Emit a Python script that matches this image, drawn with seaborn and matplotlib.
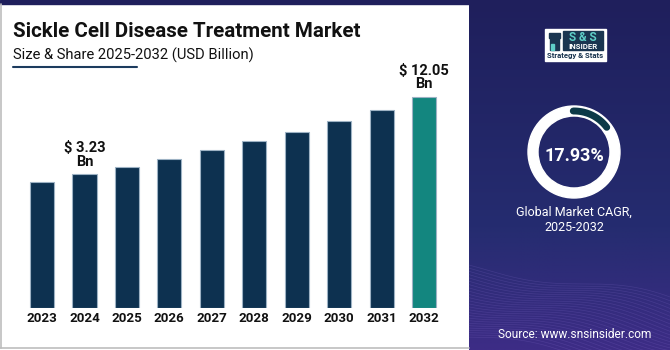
import numpy as np
import pandas as pd
import matplotlib.pyplot as plt
import seaborn as sns
from matplotlib.patches import Rectangle, Wedge

# values (bars sit on a shifted baseline)
years = ['2023', '2024', '2025', '2026', '2027', '2028', '2029', '2030', '2031', '2032']
market_bn = [2.39, 3.23, 4.09, 4.97, 5.99, 7.02, 8.04, 9.29, 10.51, 12.05]
axis_floor = -12.0
value_labels = {'2024': '$ 3.23\nBn', '2032': '$ 12.05\nBn'}

title = 'Sickle Cell Disease Treatment Market'
subtitle = 'Size & Share 2025-2032 (USD Billion)'
cagr = '17.93%'
cagr_caption = 'Global Market CAGR,\n2025-2032'
source = 'Source: www.snsinsider.com'

NAVY = '#0d3150'
TEAL = '#13867f'
PANEL = '#1f1f5c'

df = pd.DataFrame({'year': years, 'value': market_bn})
df['height'] = df['value'] - axis_floor
palette = {y: (TEAL if y == years[-1] else NAVY) for y in years}

sns.set_theme(style='white')
plt.rcParams['font.family'] = ['Roboto', 'DejaVu Sans']

W, H = 670, 350
fig = plt.figure(figsize=(W / 100, H / 100), dpi=100)
fig.patch.set_facecolor('white')

# background layer in pixel coordinates
bg = fig.add_axes([0, 0, 1, 1], zorder=0)
bg.set_xlim(0, W)
bg.set_ylim(H, 0)
bg.axis('off')

# right panel gradient
grad = np.linspace(0, 1, 200)[:, None]
top_c = np.array([0x1f, 0x1f, 0x5c]) / 255
mid_c = np.array([0x25, 0x2c, 0x70]) / 255
bot_c = np.array([0x3d, 0x2c, 0x86]) / 255
rgb = np.where(grad < 0.65,
               top_c + (mid_c - top_c) * (grad / 0.65),
               mid_c + (bot_c - mid_c) * ((grad - 0.65) / 0.35))
img = np.repeat(rgb[:, None, :], 2, axis=1).reshape(200, 2, 3)
bg.imshow(img, extent=(469, W, H, 0), aspect='auto', zorder=0)

# faint wave mesh at the bottom of the panel
xs = np.linspace(469, W, 200)
for k in range(26):
    ph = k * 0.12
    ys = 290 + 10 * np.sin((xs - 469) / 38 + ph) + k * 1.9 - 25 * np.cos((xs - 469) / 90 + ph / 2)
    bg.plot(xs, ys, color='#9a7fe0', lw=0.5, alpha=0.18, zorder=1)

# top band and left panel border
bg.add_patch(Rectangle((0, 0), W, 4, color=PANEL, zorder=2))
bg.plot([0.5, 0.5], [4, 348], color='#bdbdbd', lw=1.2, zorder=2)
bg.plot([0, 469], [348, 348], color='#bdbdbd', lw=1.2, zorder=2)

# titles
bg.text(13, 37, title, fontsize=14.8, fontweight='bold', color='#111111', va='baseline', ha='left')
bg.text(13, 60, subtitle, fontsize=10.6, color='#111111', va='baseline', ha='left')
bg.plot([13, 137], [67, 67], color='#1c3b5e', lw=1.5, zorder=2)

# logo
bg.add_patch(Rectangle((545, 29), 61, 32, color='white', zorder=3))
bg.add_patch(Rectangle((563, 31), 40, 12, color='#1a3550', zorder=4))
bg.add_patch(Rectangle((563, 43), 40, 7, color='#1a3550', zorder=4))
bg.text(583, 37.3, 'S & S', fontsize=8.5, fontweight='bold', color='#5fd0c8', ha='center', va='center', zorder=5)
bg.text(583, 46.8, 'INSIDER', fontsize=5.6, fontweight='bold', color='white', ha='center', va='center', zorder=5)
bg.text(575.5, 55.5, 'Strategy & Stats', fontsize=5.6, fontweight='bold', color='#1a3550', ha='center', va='center', zorder=5)
bg.add_patch(Rectangle((550, 38), 9, 12, color='#1a3550', zorder=4))
bg.add_patch(Rectangle((549, 33), 11, 5, color='#1a3550', zorder=4))
bg.add_patch(Rectangle((551, 44), 3, 6, color='#5fd0c8', zorder=5))

# donut
cx, cy = 574, 152
bg.add_patch(Wedge((cx, cy), 46, 0, 360, width=10, color='white', zorder=3))
theta = np.radians(np.linspace(37, 91, 60))
bg.plot(cx + 41 * np.cos(theta), cy - 41 * np.sin(theta), color='#0c3947', lw=5,
        solid_capstyle='round', zorder=4)
bg.text(cx, cy + 4, cagr, fontsize=13, fontweight='bold', color='white', ha='center', va='center', zorder=5)
bg.text(cx, 220, cagr_caption, fontsize=9, color='white', ha='center', va='center',
        linespacing=1.15, zorder=5)
bg.text(575, 334, source, fontsize=8.6, color='white', ha='center', va='center', zorder=5)

# bar chart
ax = fig.add_axes([20 / W, 42 / H, 430 / W, 228 / H], zorder=1)
ax.patch.set_alpha(0)
sns.barplot(data=df, x='year', y='height', hue='year', palette=palette, legend=False,
            saturation=1, width=0.57, bottom=axis_floor, edgecolor='#9db2c4', linewidth=0.8, ax=ax)
ax.set_xlim(-0.518, 9.61)
ax.set_ylim(axis_floor, 13.95)
for i, (y, v) in enumerate(zip(years, market_bn)):
    if y in value_labels:
        ax.annotate(value_labels[y], (i, v), xytext=(0, 4), textcoords='offset points',
                    ha='center', va='bottom', fontsize=10.5, fontweight='bold',
                    color='#111111', linespacing=0.95)
ax.set_xlabel('')
ax.set_ylabel('')
ax.set_yticks([])
ax.tick_params(axis='x', length=0, pad=3, labelsize=9.6, labelcolor='#111111')
for lab in ax.get_xticklabels():
    lab.set_fontweight('bold')
sns.despine(ax=ax, left=True, bottom=True)

fig.savefig('out.png', dpi=100)
